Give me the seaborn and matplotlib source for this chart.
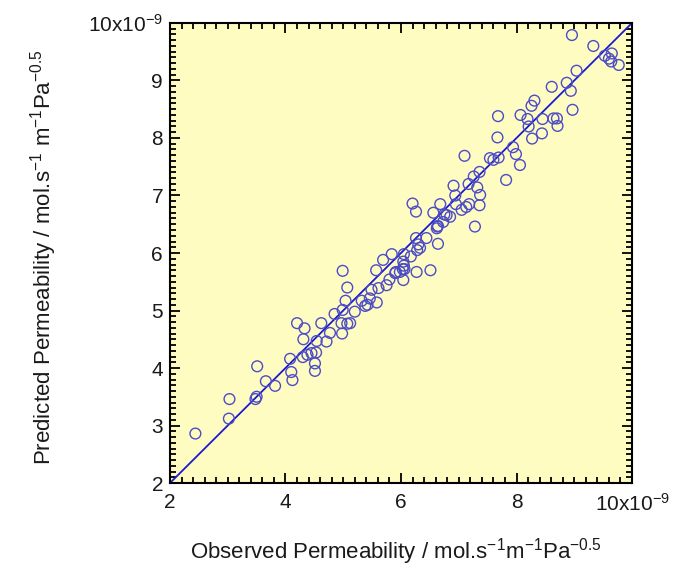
import matplotlib
matplotlib.use("Agg")
import matplotlib.pyplot as plt
import matplotlib.ticker as mticker
import seaborn as sns
import pandas as pd

observed = [2.44, 3.02, 3.03, 3.48, 3.50, 3.51, 3.66, 3.82, 4.08, 4.10, 4.12, 4.20, 4.33, 4.31,
            4.30, 4.38, 4.45, 4.51, 4.51, 4.53, 4.54, 4.62, 4.71, 4.77, 4.85, 4.97, 4.98, 4.99,
            4.99, 5.07, 5.04, 5.07, 5.12, 5.20, 5.32, 5.38, 5.42, 5.46, 5.49, 5.58, 5.61, 5.57,
            5.69, 5.84, 5.75, 5.80, 5.90, 5.98, 6.03, 6.04, 6.05, 6.04, 6.17, 6.27, 6.51, 6.28,
            6.33, 6.26, 6.44, 6.30, 6.20, 6.26, 6.64, 6.56, 6.62, 6.63, 6.68, 6.73, 6.79, 6.85,
            6.91, 6.94, 6.95, 7.05, 7.13, 7.18, 7.10, 7.17, 7.26, 7.36, 7.32, 7.37, 7.36, 7.28,
            7.54, 7.69, 7.60, 7.68, 7.67, 7.82, 7.94, 7.99, 8.06, 8.07, 8.19, 8.21, 8.26, 8.31,
            8.27, 8.44, 8.45, 8.64, 8.70, 8.71, 8.61, 8.87, 8.94, 8.97, 9.04, 8.96, 9.33, 9.53,
            9.65, 9.60, 9.64, 9.77, 5.91, 6.06, 6.05, 6.75, 6.64]
predicted = [2.86, 3.12, 3.46, 3.46, 3.50, 4.03, 3.77, 3.69, 4.16, 3.93, 3.79, 4.78, 4.69, 4.50,
             4.19, 4.23, 4.26, 4.08, 3.95, 4.27, 4.47, 4.78, 4.46, 4.61, 4.94, 4.78, 4.60, 5.01,
             5.69, 5.40, 5.17, 4.77, 4.78, 4.98, 5.17, 5.08, 5.10, 5.21, 5.36, 5.14, 5.39, 5.70,
             5.88, 5.98, 5.44, 5.54, 5.65, 5.67, 5.72, 5.53, 5.78, 5.85, 5.94, 5.67, 5.70, 6.05,
             6.09, 6.26, 6.26, 6.15, 6.86, 6.72, 6.16, 6.70, 6.43, 6.46, 6.85, 6.54, 6.66, 6.63,
             7.17, 7.00, 6.85, 6.75, 6.80, 6.85, 7.69, 7.20, 7.33, 7.41, 7.14, 7.01, 6.83, 6.46,
             7.65, 7.66, 7.62, 8.38, 8.01, 7.27, 7.84, 7.72, 7.53, 8.40, 8.33, 8.20, 8.56, 8.65,
             7.99, 8.08, 8.33, 8.34, 8.34, 8.21, 8.89, 8.96, 8.82, 8.49, 9.17, 9.79, 9.60, 9.43,
             9.47, 9.38, 9.33, 9.27, 5.67, 5.72, 5.98, 6.67, 6.47]
line_x = [2, 10]
line_y = [2, 10]

x_ticks = [2, 4, 6, 8, 10]
y_ticks = [2, 3, 4, 5, 6, 7, 8, 9, 10]
top_label = r"10x10$^{-9}$"

sns.set_style("ticks")
plt.rcParams["font.family"] = ["Liberation Sans", "DejaVu Sans"]
plt.rcParams["mathtext.default"] = "regular"

fig = plt.figure(figsize=(6.74, 5.66), dpi=100)
ax = fig.add_axes([0.2522, 0.1466, 0.6855, 0.8128])
ax.set_facecolor("#FFFCC2")

df = pd.DataFrame({"obs": observed, "pred": predicted})
sns.lineplot(x=line_x, y=line_y, ax=ax, color="#1a1ad0", linewidth=1.3, zorder=2)
sns.scatterplot(data=df, x="obs", y="pred", ax=ax, marker="o", s=60,
                facecolor="none", edgecolor="#4c4cc6", linewidth=1.0, zorder=3)

ax.set_xlim(2, 10)
ax.set_ylim(2, 10)
ax.set_xticks(x_ticks)
ax.set_yticks(y_ticks)
ax.set_xticklabels([str(v) if v != 10 else top_label for v in x_ticks])
ax.set_yticklabels([str(v) if v != 10 else top_label for v in y_ticks])
ax.xaxis.set_minor_locator(mticker.MultipleLocator(0.2))
ax.yaxis.set_minor_locator(mticker.MultipleLocator(0.1))
ax.tick_params(which="both", direction="in", top=True, right=True, color="black",
               width=1.3, labelsize=15, labelcolor="#1a1a1a")
ax.tick_params(which="major", length=7.5)
ax.tick_params(axis="x", which="major", pad=7)
ax.tick_params(axis="y", which="major", pad=5)
ax.tick_params(which="minor", length=4)
for sp in ax.spines.values():
    sp.set_linewidth(1.5)
    sp.set_color("black")

ax.set_xlabel(r"Observed Permeability / mol.s$^{-1}$m$^{-1}$Pa$^{-0.5}$", fontsize=16,
              color="#1a1a1a")
ax.set_ylabel(r"Predicted Permeability / mol.s$^{-1}$ m$^{-1}$Pa$^{-0.5}$", fontsize=16,
              color="#1a1a1a")
ax.xaxis.set_label_coords(0.489, -0.115)
ax.yaxis.set_label_coords(-0.24, 0.49)

fig.savefig("out.png", dpi=100)
